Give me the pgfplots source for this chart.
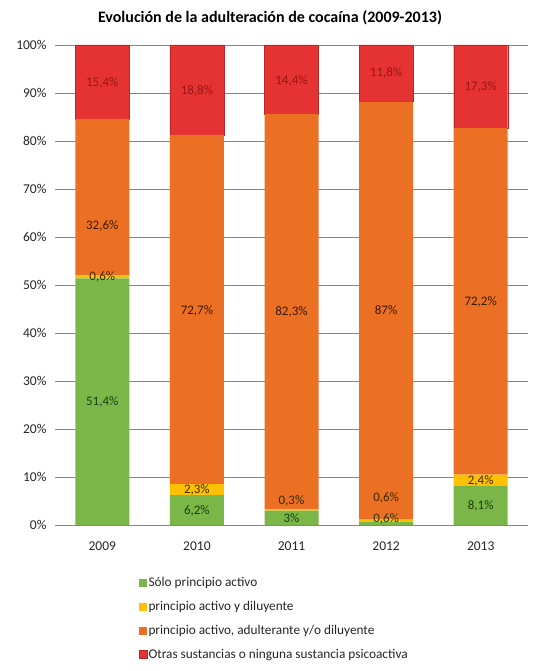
\documentclass[border=0pt]{standalone}
\usepackage{pgfplots}
\pgfplotsset{compat=1.18}
\usepackage{fontspec}
\setmainfont{Carlito}
\definecolor{cgreen}{HTML}{7AB648}
\definecolor{cyellow}{HTML}{FFC000}
\definecolor{corange}{HTML}{EB7024}
\definecolor{cred}{HTML}{E53232}
\definecolor{cgrid}{HTML}{868686}
\definecolor{tgreen}{HTML}{1F3D10}
\definecolor{tyellow}{HTML}{3A2A00}
\definecolor{torange}{HTML}{3A1A05}
\definecolor{tred}{HTML}{9A1515}
\begin{document}
\begin{tikzpicture}
\path[use as bounding box] (0,0) rectangle (543pt,671pt);
\node[font=\bfseries\fontsize{16}{18}\selectfont] at (270pt,653pt) {Evolución de la adulteración de cocaína (2009-2013)};
\begin{axis}[
  at={(55pt,146pt)}, anchor=south west, scale only axis,
  width=473pt, height=480pt,
  ybar stacked, bar width=54pt,
  xmin=-0.5, xmax=4.5, ymin=0, ymax=100,
  xtick={0,1,2,3,4}, xticklabels={2009,2010,2011,2012,2013},
  ytick={0,10,...,100},
  yticklabel={\pgfmathprintnumber{\tick}\%},
  /pgf/number format/assume math mode=true,
  ymajorgrids, grid style={cgrid, line width=0.9pt},
  axis line style={draw=none}, major tick length=0pt,
  tick label style={font=\fontsize{13.5}{15}\selectfont, text=black!85},
  xticklabel style={yshift=-13pt},
  yticklabel style={xshift=-5pt},
  legend style={at={(0.17,-0.102)}, anchor=north west, draw=none,
    font=\fontsize{13.3}{15}\selectfont, row sep=10pt,
    nodes={inner sep=1.5pt, text=black!85}},
  legend cell align=left,
  legend image code/.code={\fill[#1] (0pt,-4pt) rectangle (8pt,4pt);},
]
\addplot[fill=cgreen, draw=none] coordinates {(0,51.4) (1,6.2) (2,3) (3,0.6) (4,8.1)};
\addlegendentry{Sólo principio activo}
\addplot[fill=cyellow, draw=none] coordinates {(0,0.6) (1,2.3) (2,0.3) (3,0.6) (4,2.4)};
\addlegendentry{principio activo y diluyente}
\addplot[fill=corange, draw=none] coordinates {(0,32.6) (1,72.7) (2,82.3) (3,87) (4,72.2)};
\addlegendentry{principio activo, adulterante y/o diluyente}
\addplot[fill=cred, draw=cred!80!black, line width=0.4pt] coordinates {(0,15.4) (1,18.8) (2,14.4) (3,11.8) (4,17.3)};
\addlegendentry{Otras sustancias o ninguna sustancia psicoactiva}
\end{axis}
\begin{axis}[
  at={(55pt,146pt)}, anchor=south west, scale only axis,
  width=473pt, height=480pt, hide axis,
  xmin=-0.5, xmax=4.5, ymin=0, ymax=100,
  nodes near coords, point meta=explicit symbolic,
  every node near coord/.append style={anchor=center, font=\fontsize{13}{15}\selectfont},
]
\addplot[draw=none, mark=none, every node near coord/.append style={text=tgreen}]
  coordinates {(0,25.6)[51,4\%] (1,2.9)[6,2\%] (2,1.5)[3\%] (3,1.25)[0,6\%] (4,4.0)[8,1\%]};
\addplot[draw=none, mark=none, every node near coord/.append style={text=tyellow}]
  coordinates {(0,51.7)[0,6\%] (1,7.35)[2,3\%] (2,5.0)[0,3\%] (3,5.6)[0,6\%] (4,9.25)[2,4\%]};
\addplot[draw=none, mark=none, every node near coord/.append style={text=torange}]
  coordinates {(0,62.4)[32,6\%] (1,44.7)[72,7\%] (2,44.4)[82,3\%] (3,44.8)[87\%] (4,46.5)[72,2\%]};
\addplot[draw=none, mark=none, every node near coord/.append style={text=tred}]
  coordinates {(0,92.1)[15,4\%] (1,90.4)[18,8\%] (2,92.6)[14,4\%] (3,94.2)[11,8\%] (4,91.3)[17,3\%]};
\end{axis}
\end{tikzpicture}
\end{document}
